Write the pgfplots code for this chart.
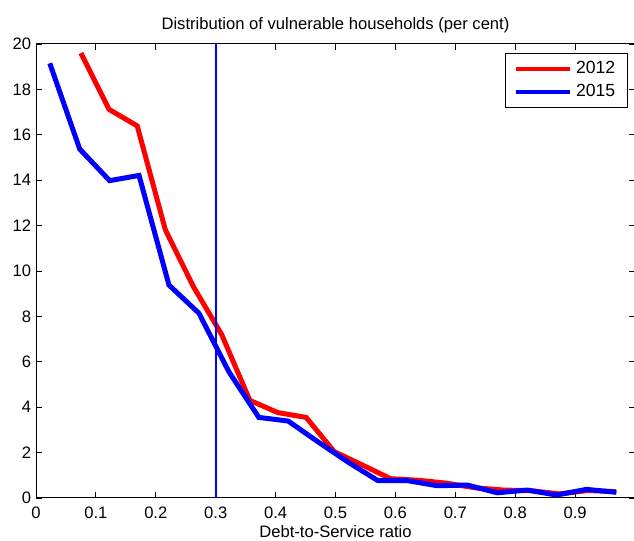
\documentclass[border=0pt]{standalone}
\usepackage{fontspec}
\setmainfont{Liberation Sans}
\usepackage{pgfplots}
\pgfplotsset{compat=1.18}
\usetikzlibrary{calc}
\begin{document}
\fontsize{8.3}{10}\selectfont
\begin{tikzpicture}
\begin{axis}[
  scale only axis, width=299.5pt, height=227pt,
  xmin=0, xmax=1, ymin=0, ymax=20,
  xtick={0,0.1,0.2,0.3,0.4,0.5,0.6,0.7,0.8,0.9},
  xticklabels={0,0.1,0.2,0.3,0.4,0.5,0.6,0.7,0.8,0.9},
  ytick={0,2,4,6,8,10,12,14,16,18,20},
  tick align=inside, major tick length=3pt,
  tick style={black, line width=0.4pt},
  axis line style={line width=0.5pt},
  /pgf/number format/assume math mode=true,
  ticklabel style={font=\fontsize{8.3}{10}\selectfont},
  xticklabel style={anchor=base, yshift=-10.5pt},
  yticklabel style={xshift=0.5pt},
  title={Distribution of vulnerable households (per cent)},
  title style={font=\fontsize{8.3}{10}\selectfont, at={(axis description cs:0.5,1)}, anchor=base, yshift=1pt},
  xlabel={Debt-to-Service ratio},
  xlabel style={font=\fontsize{8.3}{10}\selectfont, at={(axis description cs:0.5,0)}, anchor=base, yshift=-20pt},
  legend style={at={(0.988,0.98)}, anchor=north east, draw=black, line width=0.6pt,
    font=\fontsize{8.8}{10}\selectfont, row sep=0pt, inner xsep=4pt, inner ysep=2pt},
  legend cell align=left,
  legend image code/.code={\draw[#1, line width=2.2pt] (0pt,0pt) -- (27pt,0pt);},
]
\addplot[red, line width=2.5pt] coordinates {
(0.075,19.6) (0.122,17.12) (0.169,16.39) (0.216,11.81) (0.263,9.3)
(0.310,7.2) (0.357,4.3) (0.404,3.76) (0.451,3.55) (0.498,2.04)
(0.545,1.45) (0.592,0.85) (0.639,0.78) (0.686,0.65) (0.733,0.45)
(0.780,0.35) (0.827,0.32) (0.874,0.18) (0.921,0.33) (0.968,0.28)
};
\addlegendentry{2012}
\addplot[blue, line width=2.5pt] coordinates {
(0.023,19.15) (0.073,15.37) (0.123,13.98) (0.172,14.21) (0.222,9.38)
(0.272,8.14) (0.322,5.56) (0.372,3.55) (0.421,3.39) (0.471,2.47)
(0.521,1.58) (0.571,0.76) (0.621,0.76) (0.670,0.54) (0.720,0.57)
(0.770,0.23) (0.820,0.35) (0.869,0.13) (0.919,0.38) (0.969,0.25)
};
\addlegendentry{2015}
\addplot[blue, line width=1pt, forget plot] coordinates {(0.3,0) (0.3,20)};
\end{axis}
\pgfresetboundingbox
\path[use as bounding box] ($(current axis.south west)+(-18pt,-21.5pt)$) rectangle ($(current axis.north east)+(-0.5pt,22pt)$);
\end{tikzpicture}
\end{document}
